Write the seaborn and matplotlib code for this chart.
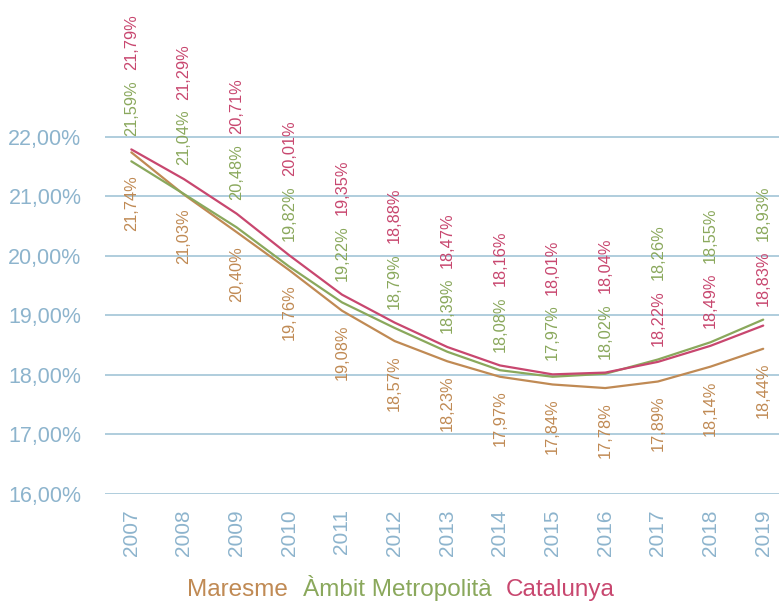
import pandas as pd
import matplotlib
matplotlib.use('Agg')
import matplotlib.pyplot as plt
import seaborn as sns
from matplotlib.ticker import FuncFormatter

# data
years = [2007, 2008, 2009, 2010, 2011, 2012, 2013, 2014, 2015, 2016, 2017, 2018, 2019]
maresme = [21.74, 21.03, 20.40, 19.76, 19.08, 18.57, 18.23, 17.97, 17.84, 17.78, 17.89, 18.14, 18.44]
ambit = [21.59, 21.04, 20.48, 19.82, 19.22, 18.79, 18.39, 18.08, 17.97, 18.02, 18.26, 18.55, 18.93]
catalunya = [21.79, 21.29, 20.71, 20.01, 19.35, 18.88, 18.47, 18.16, 18.01, 18.04, 18.22, 18.49, 18.83]
series_names = ['Maresme', 'Àmbit Metropolità', 'Catalunya']
y_ticks = [16, 17, 18, 19, 20, 21, 22]

colors = {'Maresme': '#C08A54', 'Àmbit Metropolità': '#8AA85C', 'Catalunya': '#C8476F'}
axis_blue = '#8DB4CD'
grid_blue = '#A9C9DA'

df = pd.DataFrame({
    'any': years * 3,
    'valor': maresme + ambit + catalunya,
    'serie': [s for s in series_names for _ in years],
})

sns.set_style('white')
plt.rcParams['font.family'] = ['Liberation Sans', 'DejaVu Sans']

fig = plt.figure(figsize=(7.79, 6.10), dpi=100)
ax = fig.add_axes([105 / 779, 116 / 610, 1 - 105 / 779, 1 - 116 / 610])

sns.lineplot(data=df, x='any', y='valor', hue='serie', palette=colors,
             hue_order=series_names, linewidth=1.6, ax=ax)

ax.set_xlim(2006.5, 2019.3)
ax.set_ylim(16, 24.3)
ax.set_yticks(y_ticks)
ax.set_xticks(years)
ax.yaxis.set_major_formatter(FuncFormatter(lambda v, p: f'{v:.2f}%'.replace('.', ',')))
ax.set_xticklabels([str(y) for y in years], rotation=90)
ax.tick_params(axis='y', colors=axis_blue, labelsize=15.5, length=0, pad=17)
ax.tick_params(axis='x', colors=axis_blue, labelsize=15, length=0, pad=11)
ax.grid(axis='y', color=grid_blue, linewidth=1.3)
ax.set_axisbelow(True)
for s in ax.spines.values():
    s.set_visible(False)
ax.set_xlabel('')
ax.set_ylabel('')

fmt = lambda v: f'{v:.2f}%'.replace('.', ',')
lab_size = 11.8

# value labels: Maresme below, the other two stacked above
for i, yr in enumerate(years):
    low = min(maresme[i], ambit[i], catalunya[i])
    ax.annotate(fmt(maresme[i]), xy=(yr, low), xytext=(0, -10), textcoords='offset points',
                rotation=90, ha='center', va='top', fontsize=lab_size, color=colors['Maresme'])
    pair = sorted([(ambit[i], 'Àmbit Metropolità'), (catalunya[i], 'Catalunya')])
    top = pair[1][0]
    first = ax.annotate(fmt(pair[0][0]), xy=(yr, top), xytext=(0, 10), textcoords='offset points',
                        rotation=90, ha='center', va='bottom', fontsize=lab_size, color=colors[pair[0][1]])
    ax.annotate(fmt(pair[1][0]), xy=(0.5, 1), xycoords=first, xytext=(0, 7),
                textcoords='offset points', rotation=90, ha='center', va='bottom',
                fontsize=lab_size, color=colors[pair[1][1]])

leg = ax.legend(loc='center', bbox_to_anchor=(401 / 779, 22 / 610), bbox_transform=fig.transFigure,
                ncol=3, frameon=False, handlelength=0, handletextpad=0, columnspacing=0.6,
                fontsize=17.5, labelcolor='linecolor')
for h in leg.legend_handles:
    h.set_visible(False)

fig.savefig('out.png', dpi=100)
